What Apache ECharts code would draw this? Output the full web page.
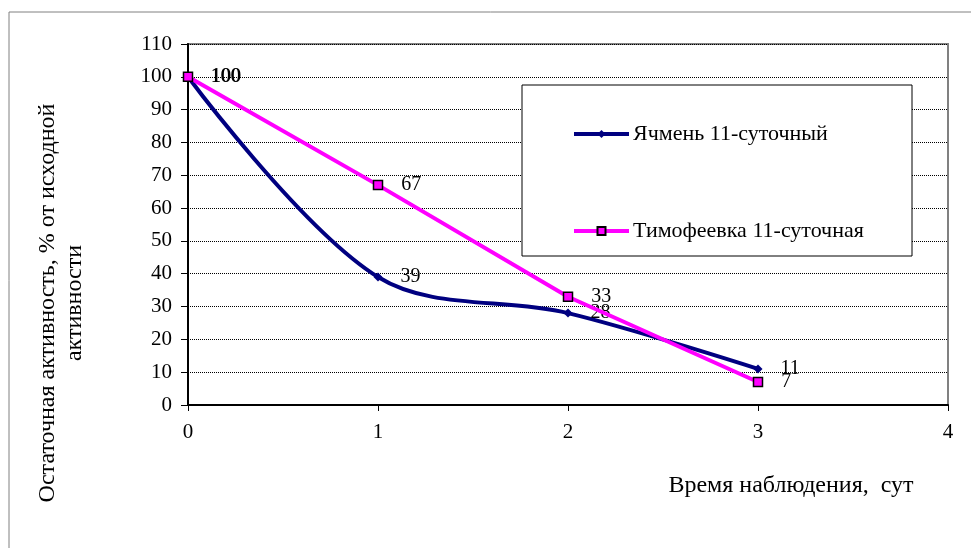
<!DOCTYPE html>
<html><head><meta charset="utf-8">
<script src="https://cdn.jsdelivr.net/npm/echarts@6/dist/echarts.min.js"></script>
<style>html,body{margin:0;padding:0;background:#fff}#c{width:971px;height:548px}</style>
</head><body><div id="c"></div>
<script>
var days = [0, 1, 2, 3];
var barley = [100, 39, 28, 11];
var timothy = [100, 67, 33, 7];
var seriesNames = ['Ячмень 11-суточный', 'Тимофеевка 11-суточная'];
var yTitle = 'Остаточная активность, % от исходной\nактивности';
var xTitle = 'Время наблюдения,  сут';

var FONT = '"Liberation Serif", "Times New Roman", serif';
var chart = echarts.init(document.getElementById('c'));
function pts(v) { return days.map(function (d, i) { return [d, v[i]]; }); }
var labelStyle = { show: true, position: 'right', distance: 18, fontFamily: FONT, fontSize: 20, color: '#000' };
chart.setOption({
  animation: false,
  textStyle: { fontFamily: FONT },
  grid: { left: 188, right: 23, top: 44, bottom: 143, show: true, borderColor: '#808080', borderWidth: 2 },
  xAxis: {
    type: 'value', min: 0, max: 4, interval: 1,
    axisLine: { lineStyle: { color: '#000', width: 2 } },
    axisTick: { show: true, length: 6, lineStyle: { color: '#000' } },
    axisLabel: { fontFamily: FONT, fontSize: 21, color: '#000', margin: 17 },
    splitLine: { show: false }
  },
  yAxis: {
    type: 'value', min: 0, max: 110, interval: 10,
    axisLine: { show: true, lineStyle: { color: '#000', width: 2 } },
    axisTick: { show: true, length: 7, lineStyle: { color: '#000' } },
    axisLabel: { fontFamily: FONT, fontSize: 21, color: '#000', margin: 16 },
    splitLine: { show: true, lineStyle: { color: '#000', type: 'dotted', width: 1 } }
  },
  legend: {
    orient: 'vertical', left: 572, top: 123, z: 6, padding: 0,
    itemWidth: 55, itemHeight: 10, itemGap: 75,
    lineStyle: { width: 4 },
    textStyle: { fontFamily: FONT, fontSize: 22, color: '#000', padding: [0, 0, 0, -1] },
    data: seriesNames
  },
  graphic: [
    { type: 'rect', z: -1, shape: { x: 9, y: 12, width: 1000, height: 600 }, style: { fill: 'none', stroke: '#808080', lineWidth: 1 } },
    { type: 'rect', z: 3, shape: { x: 522, y: 85, width: 390, height: 171 }, style: { fill: '#fff', stroke: '#000', lineWidth: 1 } },
    { type: 'text', z: 3, x: 61, y: 303, rotation: Math.PI / 2,
      style: { text: yTitle, font: '24px ' + FONT, fill: '#000', textAlign: 'center', textVerticalAlign: 'middle', lineHeight: 27 } },
    { type: 'text', z: 3, x: 791, y: 486,
      style: { text: xTitle, font: '24px ' + FONT, fill: '#000', textAlign: 'center', textVerticalAlign: 'middle' } }
  ],
  series: [
    {
      name: seriesNames[0], type: 'line', data: pts(barley), smooth: 0.34, z: 3,
      lineStyle: { color: '#000080', width: 4 },
      itemStyle: { color: '#000080' },
      symbol: 'diamond', symbolSize: 9,
      label: labelStyle
    },
    {
      name: seriesNames[1], type: 'line', data: pts(timothy), z: 4,
      lineStyle: { color: '#FF00FF', width: 4 },
      itemStyle: { color: '#FF00FF', borderColor: '#000', borderWidth: 1.5 },
      symbol: 'rect', symbolSize: 9,
      label: labelStyle
    }
  ]
});
</script></body></html>
